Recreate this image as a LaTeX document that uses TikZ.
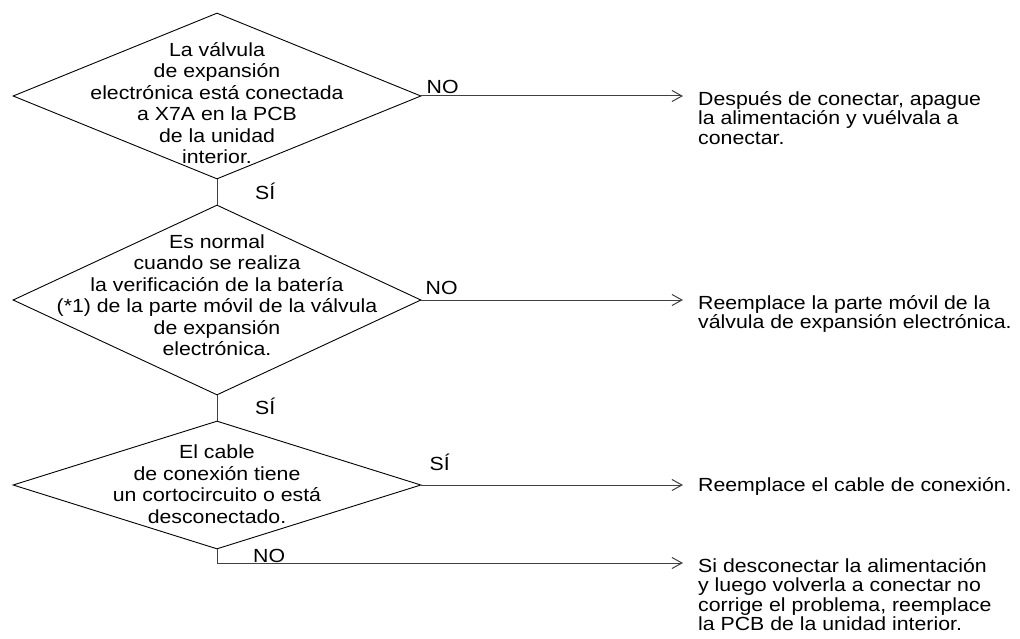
\documentclass[tikz,border=0pt]{standalone}
\usepackage{fontspec}
\setmainfont{Liberation Sans}[FakeStretch=1.12]
\usetikzlibrary{arrows.meta, shapes.geometric}

\begin{document}
\begin{tikzpicture}[x=1pt, y=-1pt,
    >={Straight Barb[length=10pt, width=11pt]},
    % decision boxes, drawn empty; their text sits in a separate node
    decision/.style={
        draw, shape=diamond, line width=0.9pt,
        minimum width=408pt, minimum height=166pt, inner sep=0pt
    },
    asktext/.style={align=center, inner sep=0pt, font=\fontsize{19}{21.5}\selectfont},
    result/.style={align=left, anchor=north west, inner sep=0pt, font=\fontsize{19}{19.6}\selectfont},
    answer/.style={anchor=base west, inner sep=0pt, font=\fontsize{19}{20}\selectfont},
    flowline/.style={line width=1pt, draw=black!75}
]
\useasboundingbox (0,0) rectangle (1020,639);

% 1. The three questions
\node[decision] (d1) at (217,96) {};
\node[asktext] (d1text) at (217,103) {La válvula\\de expansión\\electrónica está conectada\\a X7A en la PCB\\de la unidad\\interior.};

\node[decision, minimum height=190pt] (d2) at (217,300) {};
\node[asktext] (d2text) at (217,295) {Es normal\\cuando se realiza\\la verificación de la batería\\(*1) de la parte móvil de la válvula\\de expansión\\electrónica.};

\node[decision, minimum height=128pt] (d3) at (217,485) {};
\node[asktext] (d3text) at (217,484) {El cable\\de conexión tiene\\un cortocircuito o está\\desconectado.};

% 2. What to do
\node[result] (r1) at (698,91) {Después de conectar, apague\\la alimentación y vuélvala a\\conectar.};
\node[result] (r2) at (698,295) {Reemplace la parte móvil de la\\válvula de expansión electrónica.};
\node[result] (r3) at (698,477) {Reemplace el cable de conexión.};
\node[result] (r4) at (698,558) {Si desconectar la alimentación\\y luego volverla a conectar no\\corrige el problema, reemplace\\la PCB de la unidad interior.};

% 3. Connectors
\draw[flowline] (d1.south) -- (d2.north);
\draw[flowline] (d2.south) -- (d3.north);
\draw[flowline, ->, shorten >=15pt] (d1.east) -- (d1.east -| r1.west);
\draw[flowline, ->, shorten >=15pt] (d2.east) -- (d2.east -| r2.west);
\draw[flowline, ->, shorten >=15pt] (d3.east) -- (d3.east -| r3.west);
\coordinate (nobend) at (217,563);
\draw[flowline, ->, shorten >=15pt] (d3.south) -- (nobend) -- (nobend -| r4.west);

% 4. Answers on the branches
\node[answer] (no1) at ([xshift=5pt, yshift=2pt]d1.east) {NO};
\node[answer] (si1) at ([xshift=38pt, yshift=-20pt]d1.south) {SÍ};
\node[answer] (no2) at ([xshift=4pt, yshift=6pt]d2.east) {NO};
\node[answer] (si2) at ([xshift=38pt, yshift=-19pt]d2.south) {SÍ};
\node[answer] (si3) at ([xshift=8pt, yshift=15pt]d3.east) {SÍ};
\node[answer] (no3) at ([xshift=36pt, yshift=-13pt]d3.south) {NO};

\end{tikzpicture}
\end{document}
